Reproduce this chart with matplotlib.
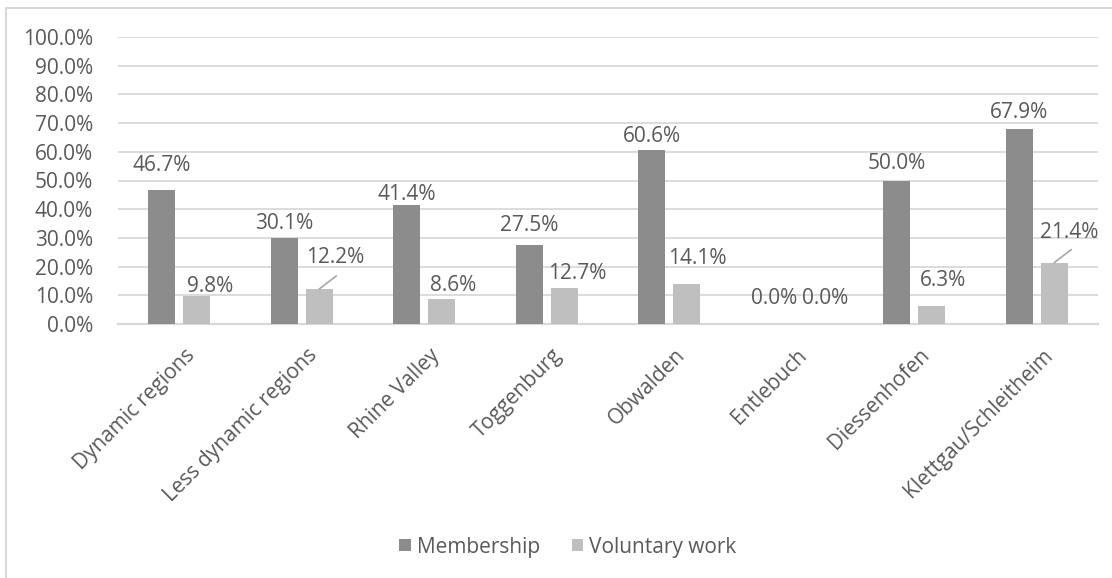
import matplotlib.pyplot as plt
import numpy as np
from matplotlib.patches import Rectangle
from matplotlib.ticker import FuncFormatter
from matplotlib.transforms import ScaledTranslation

plt.rcParams['font.family'] = ['Open Sans', 'DejaVu Sans']

regions = ["Dynamic regions", "Less dynamic regions", "Rhine Valley", "Toggenburg",
           "Obwalden", "Entlebuch", "Diessenhofen", "Klettgau/Schleitheim"]
membership = [46.7, 30.1, 41.4, 27.5, 60.6, 0.0, 50.0, 67.9]
voluntary = [9.8, 12.2, 8.6, 12.7, 14.1, 0.0, 6.3, 21.4]

# label offsets (pixels) from the top of each bar, as moved by hand in the original
mem_off = [(0, 24), (0, 14), (0, 11), (0, 20), (0, 14), (0, 25), (0, 17), (0, 17)]
vol_off = [(13, 9), (16, 31), (11, 14), (13, 14), (11, 25), (16, 25), (11, 25), (15, 30)]
leader = [False, True, False, False, False, False, False, True]

txt = '#595959'
dark = '#8c8c8c'
light = '#bfbfbf'
grid = '#d9d9d9'

fig = plt.figure(figsize=(11.12, 5.78), dpi=100)
W, H = 1112, 578
ax = fig.add_axes([118 / W, 1 - 324 / H, (1098 - 118) / W, (324 - 37) / H])

x = np.arange(len(regions))
bw = 0.22
off = 0.143
b1 = ax.bar(x - off, membership, bw, color=dark, label='Membership', zorder=3)
b2 = ax.bar(x + off, voluntary, bw, color=light, label='Voluntary work', zorder=3)

for i in range(len(regions)):
    ax.annotate(f"{membership[i]:.1f}%", xy=(x[i] - off, membership[i]),
                xytext=mem_off[i], textcoords='offset pixels',
                ha='center', va='center', fontsize=15, color=txt)
    ax.annotate(f"{voluntary[i]:.1f}%", xy=(x[i] + off, voluntary[i]),
                xytext=vol_off[i], textcoords='offset pixels',
                ha='center', va='center', fontsize=15, color=txt)
    if leader[i]:
        ax.annotate('', xy=(x[i] + off, voluntary[i]), xytext=(17, 13),
                    textcoords='offset pixels',
                    arrowprops=dict(arrowstyle='-', color='#a6a6a6', lw=1.2,
                                    shrinkA=0, shrinkB=0))

ax.set_xlim(-0.5, len(regions) - 0.5)
ax.set_ylim(0, 100)
ax.set_yticks(np.arange(0, 101, 10))
ax.yaxis.set_major_formatter(FuncFormatter(lambda v, p: f"{v:.1f}%"))
ax.grid(axis='y', color=grid, lw=1.3, zorder=0)
for s in ['top', 'right', 'left']:
    ax.spines[s].set_visible(False)
ax.spines['bottom'].set_color(grid)
ax.spines['bottom'].set_linewidth(1.6)
ax.tick_params(axis='y', length=0, pad=18, labelsize=15, labelcolor=txt)
ax.tick_params(axis='x', length=0, pad=15, labelsize=15, labelcolor=txt)
ax.set_xticks(x)
ax.set_xticklabels(regions, rotation=45, ha='right', rotation_mode='anchor')
shift = ScaledTranslation(5 / 100, 0, fig.dpi_scale_trans)
for lab in ax.get_xticklabels():
    lab.set_transform(lab.get_transform() + shift)

fig.legend(handles=[b1, b2], loc='center', bbox_to_anchor=(568 / W, 1 - 547 / H),
           ncol=2, frameon=False, fontsize=15, labelcolor=txt,
           handlelength=0.55, handleheight=0.55, handletextpad=0.3, columnspacing=1.5)

# chart area border
fig.patches.append(Rectangle((6 / W, -0.1), 1.2, 1 - 8 / H + 0.1, transform=fig.transFigure,
                             fill=False, edgecolor=grid, lw=1.5))

fig.savefig('out.png', dpi=100)
